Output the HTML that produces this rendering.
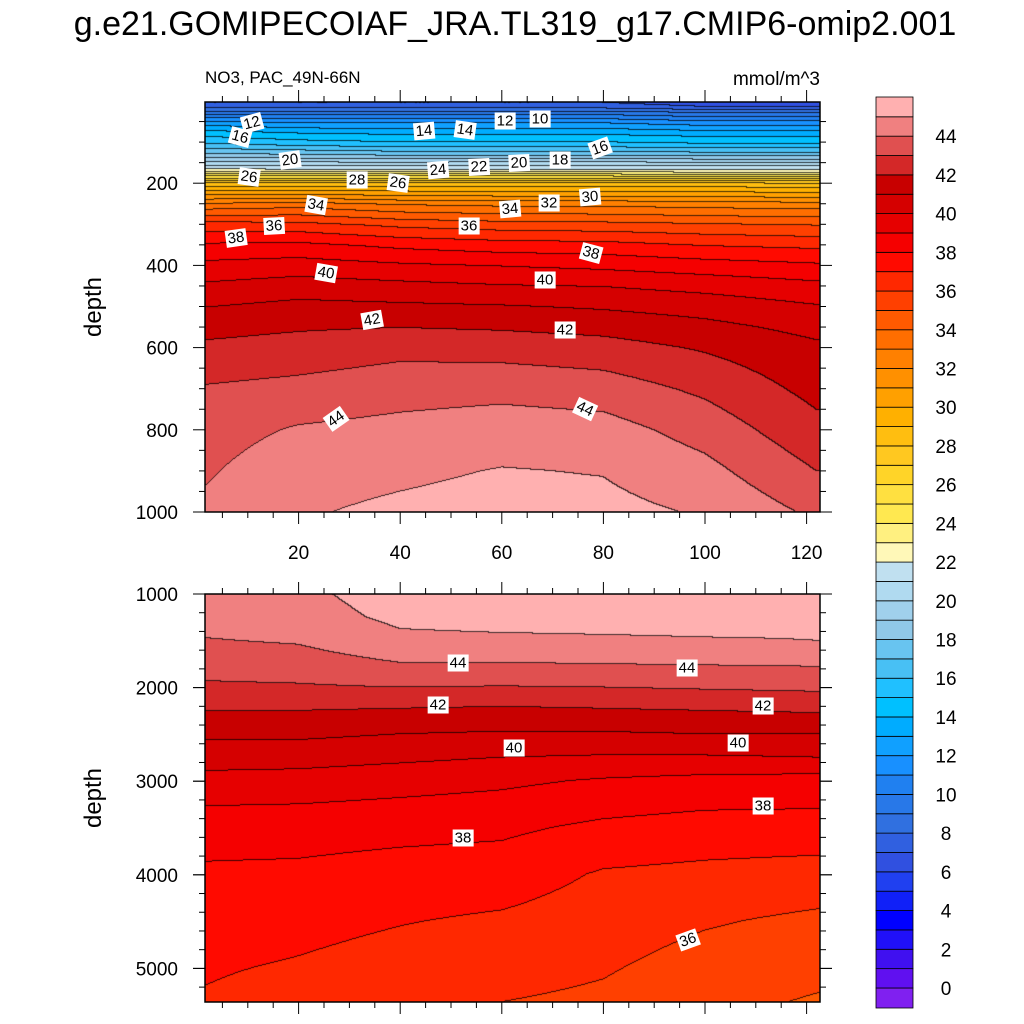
<!DOCTYPE html>
<html><head><meta charset="utf-8">
<style>
body{margin:0;background:#fff;}
#wrap{position:relative;width:1024px;height:1024px;overflow:hidden;font-family:"Liberation Sans",sans-serif;}
canvas{position:absolute;}
svg{position:absolute;left:0;top:0;}
.lbl{position:absolute;background:#fff;font-size:15px;padding:0 2px;line-height:17px;transform:translate(-50%,-50%);}
</style></head>
<body>
<div id="wrap">
<canvas id="c1" width="615" height="410" style="left:205px;top:102px"></canvas>
<canvas id="c2" width="615" height="408" style="left:205px;top:594px"></canvas>
<svg id="ax" width="1024" height="1024"></svg>
</div>
<script>
// ---- data ----
const colX = [2, 20, 40, 60, 80, 100, 122];
const topDepths = [0,10,25,50,75,100,125,150,165,175,190,200,250,300,350,400,450,500,550,600,700,800,900,1000];
const topCol0 = [7,7.5,9.5,12.5,14.5,16,18,20.5,22.3,24,27,28.5,33.3,36.5,38.2,39.3,40.2,41,41.7,42.2,43.1,43.6,43.9,44.2];
const topCol1 = [7,7.5,9.5,12,14,15.5,17.8,20.5,22.2,24,27,28.5,33.6,36.4,38.3,39.5,40.5,41.3,41.9,42.4,43.3,44.1,44.6,44.9];
const topCol2 = [7,7.5,9.5,12,13.8,15.2,17.5,20.4,22,24,27,28.5,33,35.8,37.8,39.2,40.3,41.2,42,42.7,43.6,44.3,44.8,45.2];
const topCol3 = [7,7.5,9.5,12,13.8,15.2,17.5,20.6,22.1,24,27,28.5,32.8,35.5,37.5,39,40.1,41.1,41.9,42.6,43.7,44.5,45.05,45.4];
const topCol4 = [7,7.5,9.5,12,13.8,15.2,17.5,20.6,22.1,24,27,28.5,32.8,35.4,37.4,38.8,40,40.9,41.7,42.4,43.5,44.4,44.95,45.3];
const topCol5 = [6.5,7,9,11.5,13.5,15,17.3,20.4,22,23.8,27,28.5,32.6,35.2,37,38.5,39.7,40.6,41.3,41.9,42.8,43.6,44.3,44.9];
const topCol6 = [6.5,7,9,11.5,13.5,15,17.3,20.4,22,23.8,27,28.3,32.5,35,36.8,38.2,39.3,40.1,40.7,41.2,41.7,42.3,43,43.8];
const botDepths = [1000,1250,1500,1750,2000,2250,2500,2750,3000,3500,4000,4500,5000,5365];
const botCol0 = [44.5,44.4,43.95,43.4,42.85,42.0,41.2,40.4,39.7,38.4,37.85,37.5,37.1,36.9];
const botCol1 = [44.8,44.6,44.1,43.5,42.9,42.0,41.2,40.4,39.6,38.4,37.8,37.3,36.9,36.6];
const botCol2 = [45.4,45.2,44.8,43.95,43.0,41.9,41.0,40.2,39.4,38.3,37.6,37.05,36.6,36.3];
const botCol3 = [45.4,45.3,44.85,43.95,42.95,41.8,40.9,40.0,39.2,38.2,37.5,36.85,36.4,36.0];
const botCol4 = [45.4,45.3,44.9,44.0,43.0,41.9,40.9,39.9,38.9,37.8,36.9,36.5,36.1,35.8];
const botCol5 = [45.4,45.3,44.95,44.05,43.1,42.0,41.0,39.9,38.7,37.6,36.75,36.1,35.6,35.3];
const botCol6 = [45.2,45.15,45.0,44.1,43.2,42.1,41.0,40.0,38.6,37.6,36.6,35.8,35.3,34.9];
const cbLabels = [0,2,4,6,8,10,12,14,16,18,20,22,24,26,28,30,32,34,36,38,40,42,44];
// colours for boxes: <0, 0-1, ..., 44-45, >45
const palette = ["#8020f0","#6010f0","#4010f0","#2010f8","#0000ff","#1020f8","#2040f0","#3050e0","#3060e0","#3070e0","#2878e8","#2080f0","#1890ff","#10a0ff","#00acff","#00c0ff","#20c0ff","#48c0f4","#68c4f0","#90c8e8","#a0d0ec","#b0daf0","#c0e0f0","#fff8b8","#fff080","#ffe850","#ffe040","#ffd428","#ffc820","#ffbe10","#ffb000","#ffa000","#ff9000","#ff8000","#ff6e00","#ff5a00","#ff4000","#ff2800","#ff0a00","#f50000","#e60000","#d50000","#c80000","#d42828","#e05050","#f08080","#ffb0b0"];
const topLabels = [["12",252,123,-15],["16",240,137,15],["20",290,160,-8],["26",249,177,8],["28",357,180,0],["26",398,183,8],["24",438,170,-5],["22",479,167,-3],["20",519,163,-3],["18",560,160,0],["14",424,131,-5],["14",465,130,8],["12",505,121,0],["10",540,119,0],["16",600,148,-20],["34",316,205,10],["36",274,226,-3],["38",236,238,-8],["36",469,226,0],["34",510,209,-5],["32",549,203,0],["30",590,197,-5],["38",591,253,15],["40",326,273,10],["40",545,280,0],["42",372,320,-10],["42",565,330,0],["44",336,419,-35],["44",585,409,25]];
const botLabels = [["44",458,663,0],["44",687,668,0],["42",438,705,0],["42",763,706,0],["40",514,748,0],["40",738,743,0],["38",763,806,0],["38",463,838,0],["36",688,940,-20]];

// ---- helpers ----
const topCols=[topCol0,topCol1,topCol2,topCol3,topCol4,topCol5,topCol6];
const botCols=[botCol0,botCol1,botCol2,botCol3,botCol4,botCol5,botCol6];
function interp(arr,v){let i=0;while(i<arr.length-2&&v>arr[i+1])i++;let t=(v-arr[i])/(arr[i+1]-arr[i]);return [i,Math.max(0,Math.min(1,t))];}
function field(cols,depths,x,d){const [i,tx]=interp(colX,x);const [j,td]=interp(depths,d);
 const a=cols[i][j]*(1-td)+cols[i][j+1]*td;const b=cols[i+1][j]*(1-td)+cols[i+1][j+1]*td;return a*(1-tx)+b*tx;}
function hex(h){return [parseInt(h.substr(1,2),16),parseInt(h.substr(3,2),16),parseInt(h.substr(5,2),16)];}
const pal=palette.map(hex);
function idx(v){let k=Math.floor(v)+1;return Math.max(0,Math.min(pal.length-1,k));}
const xS=x=>197+x*5.08;
function render(id,cols,depths,d0,d1,W,H){
 const c=document.getElementById(id).getContext('2d');const img=c.createImageData(W,H);
 const K=new Int16Array(W*H);
 for(let py=0;py<H;py++){const d=d0+(d1-d0)*(py+0.5)/H;
  for(let px=0;px<W;px++){const x=(205+px+0.5-197)/5.08;K[py*W+px]=idx(field(cols,depths,x,d));}}
 for(let p=0;p<W*H;p++){const px=p%W,py=(p/W)|0;let col=pal[K[p]];
  let edge=(px<W-1&&K[p+1]!==K[p])||(py<H-1&&K[p+W]!==K[p]);
  const o=p*4;if(edge){img.data[o]=col[0]*0.25;img.data[o+1]=col[1]*0.25;img.data[o+2]=col[2]*0.25;}
  else{img.data[o]=col[0];img.data[o+1]=col[1];img.data[o+2]=col[2];}img.data[o+3]=255;}
 c.putImageData(img,0,0);
}
render('c1',topCols,topDepths,-2,1000,615,410);
render('c2',botCols,botDepths,1000,5365,615,408);

// ---- axes ----
const svg=document.getElementById('ax');const NS='http://www.w3.org/2000/svg';
function el(t,a,txt){const e=document.createElementNS(NS,t);for(const k in a)e.setAttribute(k,a[k]);if(txt!==undefined)e.textContent=txt;svg.appendChild(e);return e;}
function panel(top,bot,name){
 const r=el('rect',{x:205,y:top,width:615,height:bot-top,fill:'none',stroke:'#000','stroke-width':1.5});
 
 
 for(let v=5;v<=120;v+=5){const X=xS(v);const L=v%20===0?12:6;
  el('line',{x1:X,y1:bot,x2:X,y2:bot+L,stroke:'#000','stroke-width':1});
  el('line',{x1:X,y1:top,x2:X,y2:top-L,stroke:'#000','stroke-width':1});}
}
panel(102,512,'upper-panel');panel(594,1002,'lower-panel');
const yT=d=>101+d*0.411;
for(let d=50;d<=1000;d+=50){const Y=yT(d);const L=d%200===0?12:6;
 el('line',{x1:205,y1:Y,x2:205-L,y2:Y,stroke:'#000'});el('line',{x1:820,y1:Y,x2:820+L,y2:Y,stroke:'#000'});
 if(d%200===0){const t=el('text',{x:178,y:Y+7,'text-anchor':'end','font-size':19},String(d));
  
  }}
const yB=d=>594+(d-1000)*0.0936;
for(let d=1200;d<=5365;d+=200){const Y=yB(d);const L=d%1000===0?12:6;
 el('line',{x1:205,y1:Y,x2:205-L,y2:Y,stroke:'#000'});el('line',{x1:820,y1:Y,x2:820+L,y2:Y,stroke:'#000'});}
for(let d=1000;d<=5000;d+=1000){const Y=yB(d);
 el('line',{x1:193,y1:Y,x2:205,y2:Y,stroke:'#000'});el('line',{x1:820,y1:Y,x2:832,y2:Y,stroke:'#000'});
 const t=el('text',{x:178,y:Y+7,'text-anchor':'end','font-size':19},String(d));
 
 }
for(let v=20;v<=120;v+=20){const t=el('text',{x:xS(v),y:559,'text-anchor':'middle','font-size':19},String(v));
 
 }
let t;
t=el('text',{x:515,y:35,'text-anchor':'middle','font-size':34},'g.e21.GOMIPECOIAF_JRA.TL319_g17.CMIP6-omip2.001');


t=el('text',{x:205,y:83,'font-size':17},'NO3, PAC_49N-66N');


t=el('text',{x:820,y:85,'text-anchor':'end','font-size':19},'mmol/m^3');


t=el('text',{x:101,y:307,'text-anchor':'middle','font-size':24,transform:'rotate(-90 101 307)'},'depth');


t=el('text',{x:101,y:798,'text-anchor':'middle','font-size':24,transform:'rotate(-90 101 798)'},'depth');


const cbY=v=>988-v*19.36;
for(let k=0;k<palette.length;k++){const yb=k===0?1008:cbY(k-1);const yt=k===palette.length-1?97:cbY(k);
 const r=el('rect',{x:876,y:yt,width:37,height:yb-yt,fill:palette[k],stroke:'#000','stroke-width':0.8});
 
 }
cbLabels.forEach(v=>{const t=el('text',{x:946,y:cbY(v)+7,'text-anchor':'middle','font-size':19},String(v));
 
 });
const wrap=document.getElementById('wrap');
function addLabels(list){list.forEach(l=>{const d=document.createElement('div');d.className='lbl';d.textContent=l[0];
 d.style.left=l[1]+'px';d.style.top=l[2]+'px';d.style.transform='translate(-50%,-50%) rotate('+l[3]+'deg)';
 
 
 wrap.appendChild(d);});}
addLabels(topLabels);addLabels(botLabels);
</script>
</body></html>
